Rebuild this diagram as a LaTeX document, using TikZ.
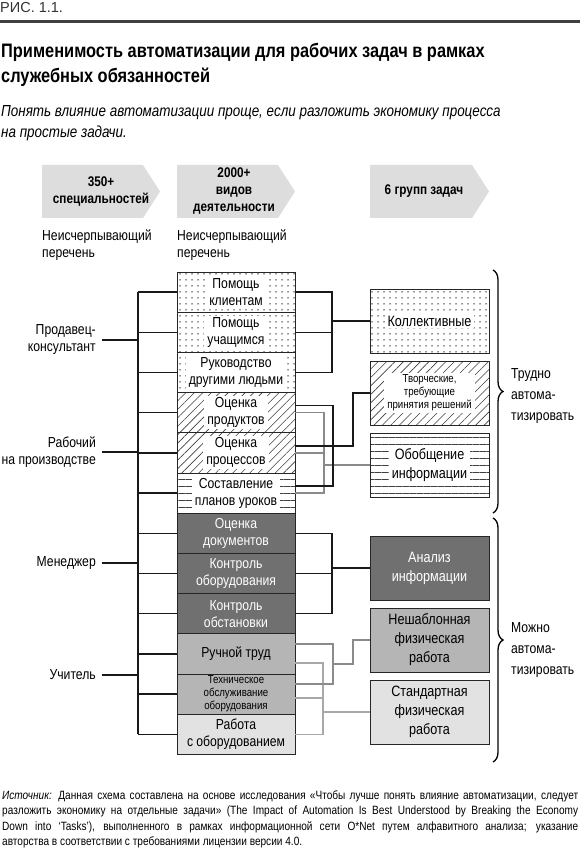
\documentclass[tikz,border=0pt]{standalone}
\usepackage{fontspec}
\setmainfont{Liberation Sans}[FakeStretch=0.84]
\newfontfamily\ricfont{Liberation Sans}
\usetikzlibrary{patterns.meta,decorations.pathreplacing}
\definecolor{chevgray}{HTML}{DDDDDD}
\definecolor{darkbox}{HTML}{707070}
\definecolor{midbox}{HTML}{B5B5B5}
\definecolor{lightbox}{HTML}{E2E2E2}
\definecolor{grayline}{HTML}{8A8A8A}
\definecolor{lightline}{HTML}{A8A8A8}

\begin{document}
\begin{tikzpicture}[x=1pt,y=-1pt,
  taskbox/.style={draw=black!85,line width=0.9pt,minimum width=118pt,minimum height=40.2pt,inner sep=0pt},
  groupbox/.style={draw=black!85,line width=0.9pt,minimum width=119pt,minimum height=64pt,inner sep=0pt},
  boxtext/.style={align=center,font=\fontsize{14.5}{17}\selectfont,inner xsep=3pt,inner ysep=1.5pt},
  boxsmall/.style={align=center,font=\fontsize{11.5}{13}\selectfont,inner xsep=3pt,inner ysep=1.5pt},
  grouptext/.style={align=center,font=\fontsize{15}{19}\selectfont,inner xsep=3pt,inner ysep=1.5pt},
  dotfill/.style={pattern={Dots[distance=6pt,radius=0.75pt]},pattern color=black!85},
  hatchfill/.style={pattern={Lines[angle=45,distance=6pt,line width=0.6pt]},pattern color=black!75},
  rulefill/.style={pattern={Lines[angle=0,distance=7pt,line width=0.7pt]},pattern color=black!75},
  link/.style={line width=1.4pt,black!90},
  grouplink/.style={line width=1.4pt,grayline},
  softlink/.style={line width=1.4pt,lightline},
  rolelabel/.style={anchor=east,align=right,inner sep=0pt,font=\fontsize{14.5}{17}\selectfont},
  note/.style={anchor=west,align=left,inner sep=0pt,font=\fontsize{14.5}{17}\selectfont},
  bracenote/.style={anchor=west,align=left,inner sep=0pt,font=\fontsize{14.5}{21}\selectfont},
  chevtext/.style={align=center,font=\bfseries\fontsize{14}{17}\selectfont},
  groupbrace/.style={decorate,decoration={brace,amplitude=10pt},line width=1.3pt}
]
\useasboundingbox (0,0) rectangle (580,850);
\fill[white] (0,0) rectangle (580,850);
\node[anchor=west,inner sep=0pt,font=\ricfont\fontsize{14.5}{16}\selectfont,text=black!80] (fig) at (0,8) {РИС. 1.1.};
\draw[line width=2.5pt,black!75] (0,21.5) -- (580,21.5);
\node[anchor=north west,align=left,inner sep=0pt,font=\bfseries\fontsize{19.5}{25}\selectfont] (title) at (1,43) {Применимость автоматизации для рабочих задач в рамках\\служебных обязанностей};
\node[anchor=north west,align=left,inner sep=0pt,font=\itshape\fontsize{16}{21}\selectfont] (sub) at (1,105) {Понять влияние автоматизации проще, если разложить экономику процесса\\на простые задачи.};
\fill[chevgray] (42,165) -- (143,165) -- (160,191.5) -- (143,218) -- (42,218) -- cycle;
\node[chevtext] (h1) at (101,191.5) {350+\\специальностей};
\fill[chevgray] (177,165) -- (278,165) -- (295,191.5) -- (278,218) -- (177,218) -- cycle;
\node[chevtext] (h2) at (234,191.5) {2000+\\видов\\деятельности};
\fill[chevgray] (370,165) -- (472,165) -- (489,191.5) -- (472,218) -- (370,218) -- cycle;
\node[chevtext] (h3) at (424,191.5) {6 групп задач};
\node[note] (n1) at (42,245) {Неисчерпывающий\\перечень};
\node[note] (n2) at (177,245) {Неисчерпывающий\\перечень};
\node[taskbox,dotfill] (t1) at (236,292.1) {};
\node[boxtext,fill=white] (t1l) at (t1) {Помощь\\клиентам};
\node[taskbox,dotfill] (t2) at (236,332.3) {};
\node[boxtext,fill=white] (t2l) at (t2) {Помощь\\учащимся};
\node[taskbox,dotfill] (t3) at (236,372.5) {};
\node[boxtext,fill=white] (t3l) at (t3) {Руководство\\другими людьми};
\node[taskbox,hatchfill] (t4) at (236,412.7) {};
\node[boxtext,fill=white] (t4l) at (t4) {Оценка\\продуктов};
\node[taskbox,hatchfill] (t5) at (236,452.9) {};
\node[boxtext,fill=white] (t5l) at (t5) {Оценка\\процессов};
\node[taskbox,rulefill] (t6) at (236,493.1) {};
\node[boxtext,fill=white] (t6l) at (t6) {Составление\\планов уроков};
\node[taskbox,boxtext,fill=darkbox,text=white] (t7) at (236,533.3) {Оценка\\документов};
\node[taskbox,boxtext,fill=darkbox,text=white] (t8) at (236,573.5) {Контроль\\оборудования};
\node[taskbox,boxtext,fill=darkbox,text=white] (t9) at (236,613.7) {Контроль\\обстановки};
\node[taskbox,boxtext,fill=midbox] (t10) at (236,653.9) {Ручной труд};
\node[taskbox,boxsmall,fill=midbox] (t11) at (236,694.1) {Техническое\\обслуживание\\оборудования};
\node[taskbox,boxtext,fill=lightbox] (t12) at (236,734.3) {Работа\\с оборудованием};
\node[groupbox,dotfill] (g1) at (429.5,321) {};
\node[grouptext,fill=white] (g1l) at (g1) {Коллективные};
\node[groupbox,hatchfill] (g2) at (429.5,393) {};
\node[boxsmall,fill=white] (g2l) at (g2) {Творческие,\\требующие\\принятия решений};
\node[groupbox,rulefill] (g3) at (429.5,465) {};
\node[grouptext,fill=white] (g3l) at (g3) {Обобщение\\информации};
\node[groupbox,grouptext,fill=darkbox,text=white] (g4) at (429.5,568) {Анализ\\информации};
\node[groupbox,grouptext,fill=midbox] (g5) at (429.5,640) {Нешаблонная\\физическая\\работа};
\node[groupbox,grouptext,fill=lightbox] (g6) at (429.5,712) {Стандартная\\физическая\\работа};
\node[rolelabel] (r1) at (96,340) {Продавец-\\консультант};
\node[rolelabel] (r2) at (96,452) {Рабочий\\на производстве};
\node[rolelabel] (r3) at (96,563) {Менеджер};
\node[rolelabel] (r4) at (96,675) {Учитель};
\coordinate (bustop) at (138,292.1);
\coordinate (busbot) at (138,734.3);
\draw[link] (bustop) -- (busbot);
\draw[link] ([xshift=6pt]r1.east) -- (r1.east -| bustop);
\draw[link] ([xshift=6pt]r2.east) -- (r2.east -| bustop);
\draw[link] ([xshift=6pt]r3.east) -- (r3.east -| bustop);
\draw[link] ([xshift=6pt]r4.east) -- (r4.east -| bustop);
\draw[link] (t1.west) -- (t1.west -| bustop);
\draw[link] (t2.west) -- (t2.west -| bustop);
\draw[link] (t3.west) -- (t3.west -| bustop);
\draw[link] (t4.west) -- (t4.west -| bustop);
\draw[link] (t5.west) -- (t5.west -| bustop);
\draw[link] (t6.west) -- (t6.west -| bustop);
\draw[link] (t7.west) -- (t7.west -| bustop);
\draw[link] (t8.west) -- (t8.west -| bustop);
\draw[link] (t9.west) -- (t9.west -| bustop);
\draw[link] (t10.west) -- (t10.west -| bustop);
\draw[link] (t11.west) -- (t11.west -| bustop);
\draw[link] (t12.west) -- (t12.west -| bustop);
\coordinate (klbot) at (332,372.5);
\draw[link] (t1.east) -| (klbot) -- (t3.east);
\draw[link] (t2.east) -| (klbot);
\draw[link] (klbot |- g1.west) -- (g1.west);
\coordinate (obbot) at (324,493.1);
\draw[grouplink] (t4.east) -| (obbot) -- (t6.east);
\draw[grouplink] (t5.east) -| (obbot);
\draw[grouplink] (obbot |- g3.west) -- (g3.west);
\coordinate (tvbot) at (333,486.1);
\coordinate (tvup) at (353,393);
\draw[link] ([yshift=7pt]t4.east) -| (tvbot) -- ([yshift=7pt]t6.east);
\draw[link] ([yshift=7pt]t5.east) -| (tvup) -- (g2.west);
\coordinate (anbot) at (332,613.7);
\draw[link] (t7.east) -| (anbot) -- (t9.east);
\draw[link] (t8.east) -| (anbot);
\draw[link] (anbot |- g4.west) -- (g4.west);
\coordinate (stbot) at (323,734.3);
\draw[softlink] ([yshift=-9pt]t10.east) -| (stbot) -- (t12.east);
\draw[softlink] ([yshift=-4pt]t11.east) -| (stbot);
\draw[softlink] (stbot |- g6.west) -- (g6.west);
\coordinate (nsbot) at (333,684.1);
\coordinate (nsmid) at (333,664);
\coordinate (nsup) at (353,640);
\draw[grouplink] ([yshift=10pt]t10.east) -| (nsbot) -- ([yshift=10pt]t11.east);
\draw[grouplink] (nsmid) -| (nsup) -- (g5.west);
\coordinate (hb1) at (493,270);
\coordinate (hb2) at (493,513);
\coordinate (eb1) at (493,518);
\coordinate (eb2) at (493,762);
\draw[groupbrace] (hb1) -- (hb2);
\draw[groupbrace] (eb1) -- (eb2);
\node[bracenote] (hard) at (511,396) {Трудно\\автома-\\тизировать};
\node[bracenote] (easy) at (511,650) {Можно\\автома-\\тизировать};
\node[anchor=north west,text width=576pt,align=justify,inner sep=0pt,font=\fontsize{12}{15.5}\selectfont] (src) at (2,790) {\textit{Источник:} Данная схема составлена на основе исследования «Чтобы лучше понять влияние автоматизации, следует\linebreak разложить экономику на отдельные задачи» (The Impact of Automation Is Best Understood by Breaking the Economy\linebreak Down into ‘Tasks’), выполненного в рамках информационной сети O*Net путем алфавитного анализа; указание\linebreak авторства в соответствии с требованиями лицензии версии 4.0.};
\end{tikzpicture}
\end{document}
